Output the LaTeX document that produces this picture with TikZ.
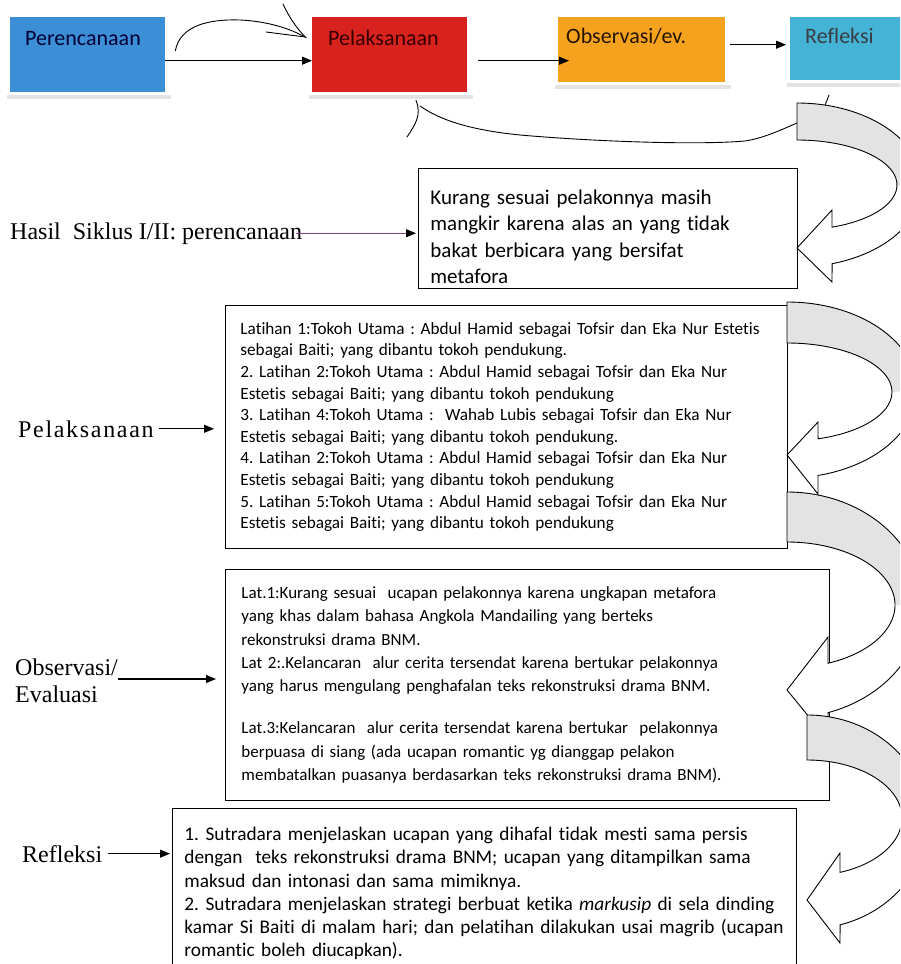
\documentclass[tikz,border=0pt]{standalone}
\usepackage{fontspec}
\setmainfont{Carlito}[Ligatures=NoCommon]
\newfontfamily\tnr{Liberation Serif}
\usetikzlibrary{arrows.meta}
\definecolor{perblue}{HTML}{3C8ED6}
\definecolor{pelred}{HTML}{D8221E}
\definecolor{obsorange}{HTML}{F5A21F}
\definecolor{refcyan}{HTML}{44B3D6}
\definecolor{lnpurple}{HTML}{8A3F86}
\frenchspacing

\begin{document}
\begin{tikzpicture}[x=1pt, y=-1pt,
    stg/.style={anchor=north west, align=left, inner ysep=0pt, text height=15pt,
                font=\fontsize{22}{26}\selectfont},
    box/.style={draw, anchor=north west, align=left, line width=0.9pt, fill=white},
    lbl/.style={anchor=base west, inner sep=0pt, font=\tnr\fontsize{24}{28}\selectfont},
    arr/.style={-{Triangle[length=10pt, width=8pt]}, line width=1.1pt},
    arrp/.style={-{Triangle[length=10pt, width=8pt, color=black]}, line width=1.1pt, lnpurple},
    hand/.style={line width=0.9pt, line cap=round, line join=round},
    shd/.style={fill=gray!22},
    gback/.style={fill=gray!22}]
  \useasboundingbox (0,0) rectangle (900,964);
  \clip (0,0) rectangle (900,964);

  % the four stages
  \node[stg, fill=perblue, text=blue!20!black, inner xsep=15pt, text width=125pt,
        minimum height=75pt, text depth=34pt] (per) at (10,17) {Perencanaan};
  \node[stg, fill=pelred, text=red!20!black, inner xsep=16pt, text width=123pt,
        minimum height=75pt, text depth=34pt] (pel) at (312,17) {Pelaksanaan};
  \node[stg, fill=obsorange, text=orange!15!black, inner xsep=8pt, text width=151pt,
        minimum height=65pt, text depth=28pt] (obs) at (558,17) {Observasi/ev.};
  \node[stg, fill=refcyan, text=cyan!15!black, inner xsep=15pt, text width=85pt,
        minimum height=63pt, text depth=26pt] (ref) at (790,17) {Refleksi};
  \foreach \n in {per,pel,obs,ref}
    \fill[shd] ([xshift=-3pt,yshift=-3pt]\n.south west) rectangle ([xshift=6pt,yshift=-7pt]\n.south east);

  \draw[arr] ([yshift=-6pt]per.east) -- ([yshift=-6pt]pel.west);
  \draw[arr] ([xshift=11pt,yshift=-6pt]pel.east) -- ([xshift=11pt,yshift=-6pt]pel.east -| obs.west);
  \draw[arr] ([xshift=5pt,yshift=5pt]obs.east) -- ([xshift=-4pt,yshift=5pt]obs.east -| ref.west);

  % pen strokes
  \draw[hand] ([xshift=10pt,yshift=4pt]per.east) .. controls (180,25) and (210,19) .. (240,20)
              .. controls (265,21) and (290,28) .. ([xshift=-6pt,yshift=17pt]pel.west);
  \draw[hand] (266,32) -- ([xshift=-9pt,yshift=18pt]pel.west);
  \draw[hand] (283,4) .. controls (288,15) and (296,28) .. ([xshift=-6pt,yshift=17pt]pel.west);
  \draw[hand] (407,137) .. controls (415,125) and (422,115) .. ([xshift=104pt,yshift=-8pt]pel.south west);
  \draw[hand] (420,106) .. controls (440,120) and (470,130) .. (520,135)
              .. controls (600,142) and (700,145) .. (745,141)
              .. controls (765,138) and (785,128) .. (797,123);
  \draw[hand] (824,108) -- (829,95);

  % results
  \node[box, inner xsep=12pt, text width=355pt, minimum height=120pt,
        font=\fontsize{21}{26.5}\selectfont] (kur) at (418,168)
    {\rule{0pt}{31pt}Kurang sesuai pelakonnya masih\\
     mangkir karena alas an yang tidak\\
     bakat berbicara yang bersifat\\
     metafora};
  \node[box, inner xsep=15pt, text width=532pt, minimum height=243pt,
        font=\fontsize{17.2}{21.6}\selectfont] (lat) at (225,305)
    {Latihan 1:Tokoh Utama : Abdul Hamid sebagai Tofsir dan Eka Nur Estetis\\
     sebagai Baiti; yang dibantu tokoh pendukung.\\
     2. Latihan 2:Tokoh Utama : Abdul Hamid sebagai Tofsir dan Eka Nur\\
     Estetis sebagai Baiti; yang dibantu tokoh pendukung\\
     3. Latihan 4:Tokoh Utama :\ \ Wahab Lubis sebagai Tofsir dan Eka Nur\\
     Estetis sebagai Baiti; yang dibantu tokoh pendukung.\\
     4. Latihan 2:Tokoh Utama : Abdul Hamid sebagai Tofsir dan Eka Nur\\
     Estetis sebagai Baiti; yang dibantu tokoh pendukung\\
     5. Latihan 5:Tokoh Utama : Abdul Hamid sebagai Tofsir dan Eka Nur\\
     Estetis sebagai Baiti; yang dibantu tokoh pendukung};
  \node[box, inner xsep=16pt, text width=572pt, minimum height=231pt,
        font=\fontsize{17}{23.3}\selectfont] (ev) at (225,569)
    {Lat.1:Kurang sesuai\ \ ucapan pelakonnya karena ungkapan metafora\\
     yang khas dalam bahasa Angkola Mandailing yang berteks\\
     rekonstruksi drama BNM.\\
     Lat 2:.Kelancaran\ \ alur cerita tersendat karena bertukar pelakonnya\\
     yang harus mengulang penghafalan teks rekonstruksi drama BNM.\\[19pt]
     Lat.3:Kelancaran\ \ alur cerita tersendat karena bertukar\ \ pelakonnya\\
     berpuasa di siang (ada ucapan romantic yg dianggap pelakon\\
     membatalkan puasanya berdasarkan teks rekonstruksi drama BNM).};
  \node[box, inner xsep=12pt, text width=600pt, minimum height=170pt,
        font=\fontsize{19.3}{23.2}\selectfont] (rf) at (172,808)
    {1. Sutradara menjelaskan ucapan yang dihafal tidak mesti sama persis\\
     dengan\ \ teks rekonstruksi drama BNM; ucapan yang ditampilkan sama\\
     maksud dan intonasi dan sama mimiknya.\\
     2. Sutradara menjelaskan strategi berbuat ketika \textit{markusip} di sela dinding\\
     kamar Si Baiti di malam hari; dan pelatihan dilakukan usai magrib (ucapan\\
     romantic boleh diucapkan).};

  % row labels
  \node[lbl] (hasil) at (10,239) {Hasil\ \ Siklus I/II: perencanaan};
  \node[lbl] (pelL) at (18,437) {\addfontfeature{LetterSpace=7}Pelaksanaan};
  \node[lbl] (obs1) at (15,675) {Observasi/};
  \node[lbl] (obs2) at (15,702) {Evaluasi};
  \node[lbl] (refL) at (22,862) {Refleksi};
  \draw[arrp] ([xshift=-6pt]hasil.east) -- ([xshift=-2pt]hasil.east -| kur.west);
  \draw[arr] ([xshift=5pt]pelL.east) -- ([xshift=-11pt]pelL.east -| lat.west);
  \draw[arr] ([yshift=-4pt]obs1.base east) -- ([xshift=-9pt,yshift=-4pt]obs1.base east -| ev.west);
  \draw[arr] ([xshift=6pt]refL.east) -- ([xshift=-2pt]refL.east -| rf.west);

  % curved block arrows back into each box
  \foreach \tx/\ocy/\orx/\ory/\oe/\icy/\irx/\iry/\ie/\hx/\ba/\bb/\tip in {
      797/185/125/82/73.7/185/100/45/69.5/832/210/282/248,
      787/390/130/88/76.2/392/105/49/72.8/818/422/494/455,
      787/605/135/113/72.3/605/108/63/67.7/828/637/740/690,
      807/822/120/107/74.0/818/95/58/69.7/840/853/943/900} {
    \def\bendpath{(\tx,{\ocy-\ory}) arc[start angle=-90, end angle=\oe, x radius=\orx, y radius=\ory]
      -- (\hx,\bb) -- (\tx,\tip) -- (\hx,\ba)
      -- ({\tx+\irx*cos(\ie)},{\icy+\iry*sin(\ie)})
      arc[start angle=\ie, end angle=-90, x radius=\irx, y radius=\iry] -- cycle}
    \fill[white] \bendpath;
    \fill[gback] (\tx,{\ocy-\ory}) arc[start angle=-90, end angle=0, x radius=\orx, y radius=\ory]
      -- ({\tx+\irx},\icy) arc[start angle=0, end angle=-90, x radius=\irx, y radius=\iry] -- cycle;
    \draw[line width=0.9pt, line join=miter] \bendpath;
  }
\end{tikzpicture}
\end{document}
